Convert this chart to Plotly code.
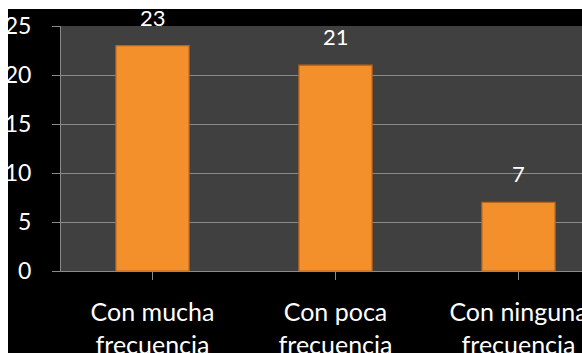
import plotly.graph_objects as go

# Survey responses: how often the activity happens
categories = ["Con mucha<br>frecuencia", "Con poca<br>frecuencia", "Con ninguna<br>frecuencia"]
counts = [23, 21, 7]
y_ticks = [0, 5, 10, 15, 20, 25]

W, H = 582, 353
ML, MR, MT, MB = 61, 0, 26, 82
PW, PH = W - ML - MR, H - MT - MB

FONT = "Lato, 'Open Sans', sans-serif"
GRID = "#8a8a8a"

fig = go.Figure()
fig.add_trace(go.Bar(
    x=list(range(len(categories))),
    y=counts,
    width=0.4,
    marker=dict(color="#F3902C", line=dict(color="#B8621A", width=1.2)),
    hoverinfo="skip",
))

# value labels above each bar
for i, v in enumerate(counts):
    fig.add_annotation(x=i, y=v, text=str(v), showarrow=False,
                       yanchor="bottom", yshift=13,
                       font=dict(family=FONT, size=22, color="white"))

# white frame strips along the top and left edges of the canvas
fig.add_shape(type="rect", xref="paper", yref="paper",
              x0=-ML / PW - 0.02, x1=(8 - ML) / PW, y0=-MB / PH - 0.1, y1=(H - MB) / PH + 0.1,
              fillcolor="white", line=dict(width=0), layer="above")
fig.add_shape(type="rect", xref="paper", yref="paper",
              x0=-ML / PW - 0.02, x1=1.05, y0=(H - MB - 9) / PH, y1=(H - MB) / PH + 0.1,
              fillcolor="white", line=dict(width=0), layer="above")

fig.update_layout(
    width=W, height=H,
    margin=dict(l=ML, r=MR, t=MT, b=MB, autoexpand=False),
    paper_bgcolor="black",
    plot_bgcolor="#404040",
    showlegend=False,
    bargap=0.6,
    font=dict(family=FONT, color="white"),
)
fig.update_xaxes(
    range=[-0.5, -0.5 + PW / 183.0],
    tickmode="array", tickvals=list(range(len(categories))), ticktext=categories,
    tickfont=dict(family=FONT, size=25, color="white"),
    showgrid=False, zeroline=False,
    showline=True, linecolor=GRID, linewidth=1,
    ticks="outside", ticklen=8, tickcolor=GRID, tickson="boundaries",
    ticklabelstandoff=11, ticklabeloverflow="allow", automargin=False,
)
fig.update_yaxes(
    range=[0, 25], tickvals=y_ticks,
    tickfont=dict(family=FONT, size=23, color="white"),
    showgrid=True, gridcolor=GRID, gridwidth=1, zeroline=False,
    showline=True, linecolor=GRID, linewidth=1,
    ticks="outside", ticklen=8, tickcolor=GRID,
    ticklabelstandoff=16, automargin=False,
)

fig.write_html("out.html")
